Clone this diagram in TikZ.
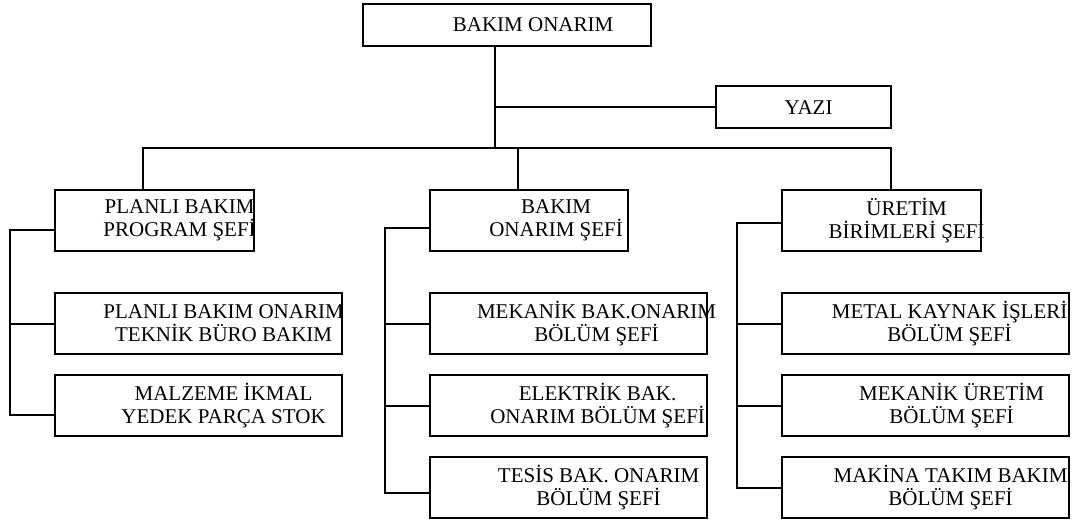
\documentclass[tikz,border=0pt]{standalone}
\usepackage{fontspec}
\setmainfont{Liberation Serif}
\usetikzlibrary{positioning}
\tikzset{kutu/.style={draw, inner sep=0pt, minimum height=61pt, anchor=north west}, % a box of the chart
metin/.style={align=center, xshift=25pt, font=\fontsize{21}{23}\selectfont}, % its text, set right of centre
}

\begin{document}
\begin{tikzpicture}[x=1pt, y=-1pt, line width=2.2pt]
\useasboundingbox (0,0) rectangle (1082,523);
% top
\node[kutu, minimum width=288pt, minimum height=42pt, label={[metin, xshift=1pt]center:BAKIM ONARIM}] (bo) at (362,3) {};
\node[kutu, minimum width=175pt, minimum height=42pt, label={[metin, xshift=-20pt]center:YAZI}] (yazi) at (715,85) {};
% first level
\node[kutu, minimum width=199pt, label={[metin]center:PLANLI BAKIM\\PROGRAM ŞEFİ}] (p1) at (54,189) {};
\node[kutu, minimum width=198pt, label={[metin, xshift=2pt]center:BAKIM\\ONARIM ŞEFİ}] (b1) at (429,189) {};
\node[kutu, minimum width=199pt, label={[metin]center:ÜRETİM\\BİRİMLERİ ŞEFİ}] (u1) at (781,189) {};
% second level
\node[kutu, minimum width=287pt, label={[metin]center:PLANLI BAKIM ONARIM\\TEKNİK BÜRO BAKIM}] (p2) at (54,292) {};
\node[kutu, minimum width=287pt, label={[metin]center:MALZEME İKMAL\\YEDEK PARÇA STOK}] (p3) at (54,374) {};
\node[kutu, minimum width=277pt, label={[metin, xshift=3pt]center:MEKANİK BAK.ONARIM\\BÖLÜM ŞEFİ}] (b2) at (429,292) {};
\node[kutu, minimum width=277pt, label={[metin, xshift=4pt]center:ELEKTRİK BAK.\\ONARIM BÖLÜM ŞEFİ}] (b3) at (429,374) {};
\node[kutu, minimum width=277pt, label={[metin, xshift=5pt]center:TESİS BAK. ONARIM\\BÖLÜM ŞEFİ}] (b4) at (429,456) {};
\node[kutu, minimum width=287pt, label={[metin, xshift=-1pt]center:METAL KAYNAK İŞLERİ\\BÖLÜM ŞEFİ}] (u2) at (781,292) {};
\node[kutu, minimum width=287pt, label={[metin, xshift=1pt]center:MEKANİK ÜRETİM\\BÖLÜM ŞEFİ}] (u3) at (781,374) {};
\node[kutu, minimum width=287pt, label={[metin]center:MAKİNA TAKIM BAKIM\\BÖLÜM ŞEFİ}] (u4) at (781,456) {};

\coordinate (d1) at (495,148);
\coordinate (sol) at (143,148);
\coordinate (orta) at (518,148);
\coordinate (sag) at (891,148);
\coordinate (x1) at (10,0);
\coordinate (x2) at (385,0);
\coordinate (x3) at (737,0);

\draw (bo.south -| d1) -- (d1);
\draw (yazi.west -| d1) -- (yazi.west);
\draw (p1.north -| sol) |- (sag) -- (u1.north -| sag);
\draw (orta) -- (b1.north -| orta);
% side lines
\draw ([yshift=-9pt]p1.west) -| ([yshift=-9pt]p3.west -| x1) -- ([yshift=-9pt]p3.west);
\draw (p2.west) -- (p2.west -| x1);
\draw ([yshift=-7pt]b1.west) -| ([yshift=-5pt]b4.west -| x2) -- ([yshift=-5pt]b4.west);
\foreach \k in {b2,b3} \draw (\k.west) -- (\k.west -| x2);
\draw ([yshift=-2pt]u1.west) -| (u4.west -| x3) -- (u4.west);
\foreach \k in {u2,u3} \draw (\k.west) -- (\k.west -| x3);
\end{tikzpicture}
\end{document}
